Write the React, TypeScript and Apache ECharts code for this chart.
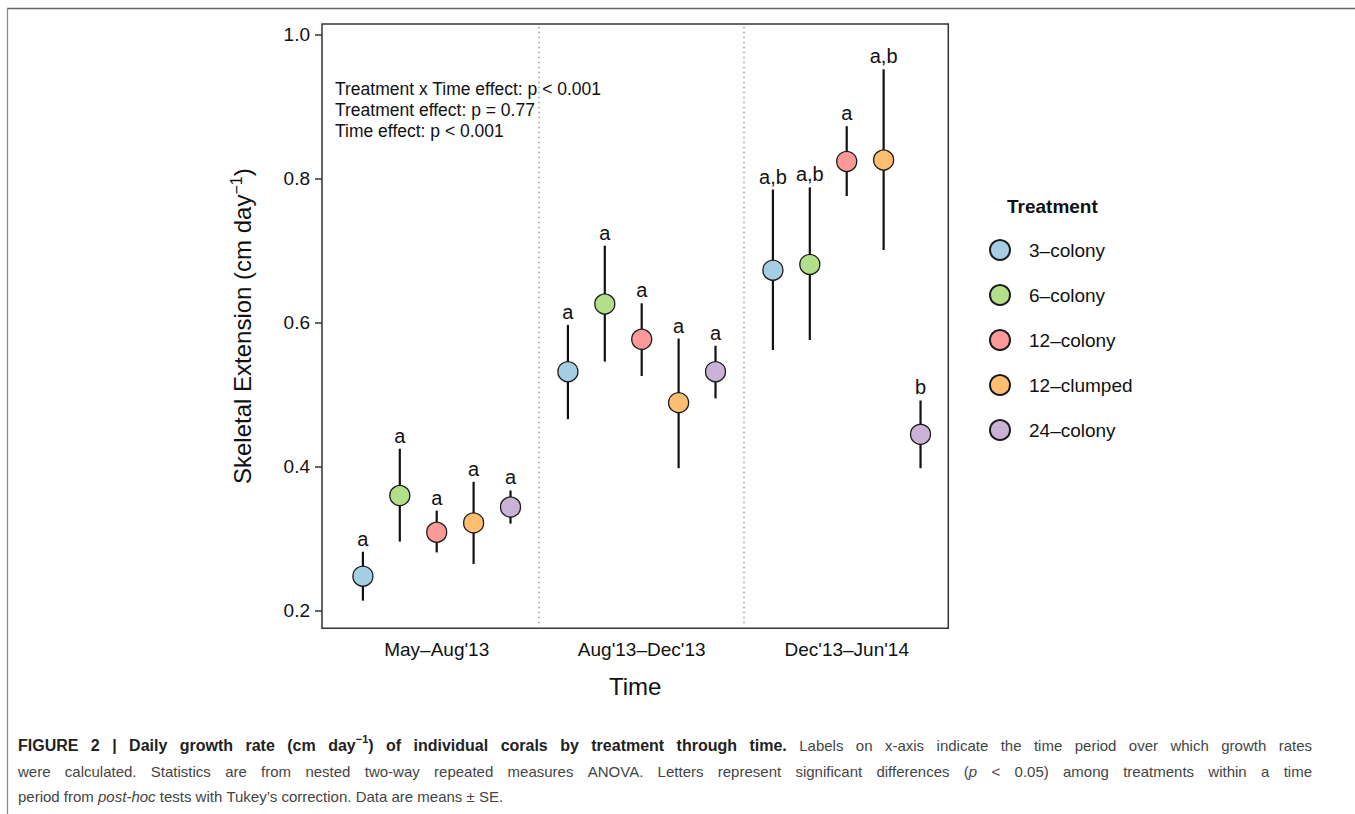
import React, { useEffect, useRef } from "react";
import * as echarts from "echarts";

// ---- data ----
const periods = ["May–Aug'13", "Aug'13–Dec'13", "Dec'13–Jun'14"];
const treatments = ["3–colony", "6–colony", "12–colony", "12–clumped", "24–colony"];
const treatmentColors = ["#A6CEE3", "#B2DF8A", "#FB9A99", "#FDBF6F", "#CAB2D6"];
// rows: treatment, columns: period
const meanValues = [
  [0.248, 0.532, 0.673],
  [0.36, 0.626, 0.681],
  [0.309, 0.577, 0.824],
  [0.322, 0.489, 0.826],
  [0.344, 0.532, 0.445],
];
const lowerValues = [
  [0.214, 0.466, 0.562],
  [0.296, 0.546, 0.576],
  [0.281, 0.526, 0.776],
  [0.265, 0.398, 0.701],
  [0.321, 0.495, 0.398],
];
const upperValues = [
  [0.282, 0.597, 0.785],
  [0.425, 0.707, 0.788],
  [0.339, 0.627, 0.873],
  [0.379, 0.578, 0.952],
  [0.367, 0.568, 0.492],
];
const letters = [
  ["a", "a", "a,b"],
  ["a", "a", "a,b"],
  ["a", "a", "a"],
  ["a", "a", "a,b"],
  ["a", "a", "b"],
];
const yTicks = [0.2, 0.4, 0.6, 0.8, 1.0];
const separators = [1.5, 2.5];
const statsLines = [
  "Treatment x Time effect: p < 0.001",
  "Treatment effect: p = 0.77",
  "Time effect: p < 0.001",
];
// caption: [style, text] segments per line (b = bold, bs = bold superscript, r = regular, i = italic)
const captionLines: [string, string][][] = [
  [
    ["b", "FIGURE 2 | Daily growth rate (cm day"],
    ["bs", "−1"],
    ["b", ") of individual corals by treatment through time."],
    ["r", " Labels on x-axis indicate the time period over which growth rates"],
  ],
  [
    ["r", "were calculated. Statistics are from nested two-way repeated measures ANOVA. Letters represent significant differences ("],
    ["i", "p"],
    ["r", " < 0.05) among treatments within a time"],
  ],
  [
    ["r", "period from "],
    ["i", "post-hoc"],
    ["r", " tests with Tukey’s correction. Data are means ± SE."],
  ],
];

const FONT = "'Liberation Sans', Arial, Helvetica, sans-serif";
const dodgeWidth = 0.9;
const dodge = (j: number) => (j - (treatments.length - 1) / 2) * (dodgeWidth / treatments.length);

const captionFonts: Record<string, string> = {
  b: `bold 16px ${FONT}`,
  bs: `bold 11px ${FONT}`,
  r: `15px ${FONT}`,
  i: `italic 15px ${FONT}`,
};

function buildCaption(left: number, right: number) {
  const ctx = document.createElement("canvas").getContext("2d") as CanvasRenderingContext2D;
  const measure = (text: string, font: string) => {
    ctx.font = font;
    return ctx.measureText(text).width;
  };
  const W = right - left;
  const rich: any = {
    b: { font: captionFonts.b, fill: "#222", lineHeight: 25.5 },
    bs: { font: captionFonts.bs, fill: "#222", lineHeight: 12, verticalAlign: "top" },
    r: { font: captionFonts.r, fill: "#444", lineHeight: 25.5 },
    i: { font: captionFonts.i, fill: "#444", lineHeight: 25.5 },
  };
  const lines = captionLines.map((segs, li) => {
    const words: [string, string][][] = [];
    let cur: [string, string][] = [];
    segs.forEach(([s, t]) => {
      const parts = t.split(" ");
      parts.forEach((p, k) => {
        if (k > 0 && cur.length) {
          words.push(cur);
          cur = [];
        }
        if (p) cur.push([s, p]);
      });
    });
    if (cur.length) words.push(cur);
    const widths = words.map((w) => w.reduce((a, [s, t]) => a + measure(t, captionFonts[s]), 0));
    const total = widths.reduce((a, b) => a + b, 0);
    const isLast = li === captionLines.length - 1;
    const gap = isLast ? measure(" ", captionFonts.r) : (W - total) / (words.length - 1);
    rich["g" + li] = { font: captionFonts.r, width: gap, lineHeight: 25.5 };
    return words.map((w) => w.map(([s, t]) => `{${s}|${t}}`).join("")).join(`{g${li}| }`);
  });
  return { text: lines.join("\n"), rich };
}

export default function App() {
  const ref = useRef<HTMLDivElement>(null);

  useEffect(() => {
    if (!ref.current) return;
    const chart = echarts.init(ref.current, null, { renderer: "svg" });

    const errData: any[] = [];
    treatments.forEach((_, j) => {
      periods.forEach((__, i) => {
        errData.push([i + 1 + dodge(j), lowerValues[j][i], upperValues[j][i], j, i]);
      });
    });

    const scatterSeries = treatments.map((name, j) => ({
      name,
      type: "scatter",
      z: 4,
      symbol: "circle",
      symbolSize: 20,
      itemStyle: { color: treatmentColors[j], borderColor: "#1a1a1a", borderWidth: 1.3, opacity: 1 },
      data: periods.map((_, i) => [i + 1 + dodge(j), meanValues[j][i]]),
      ...(j === 0
        ? {
            markLine: {
              silent: true,
              symbol: ["none", "none"],
              label: { show: false },
              lineStyle: { type: [1.5, 3.5], color: "#9a9a9a", width: 1.5 },
              data: separators.map((v) => ({ xAxis: v })),
            },
          }
        : {}),
    }));

    const caption = buildCaption(18, 1312);

    const option: any = {
      animation: false,
      backgroundColor: "#ffffff",
      textStyle: { fontFamily: FONT },
      grid: {
        left: 322,
        top: 24,
        width: 626.3,
        height: 604.3,
        show: true,
        borderColor: "#333333",
        borderWidth: 1.5,
        backgroundColor: "transparent",
      },
      xAxis: {
        type: "value",
        min: 0.4405,
        max: 3.4955,
        axisLine: { show: false },
        axisTick: { show: false },
        splitLine: { show: false },
        axisLabel: {
          customValues: [1, 2, 3],
          formatter: (v: number) => periods[Math.round(v) - 1] ?? "",
          fontSize: 19,
          color: "#111",
          fontFamily: FONT,
          margin: 12,
        },
        name: "Time",
        nameLocation: "middle",
        nameGap: 46,
        nameTextStyle: { fontSize: 24, color: "#111", fontFamily: FONT },
      },
      yAxis: {
        type: "value",
        min: 0.1756,
        max: 1.0149,
        axisLine: { show: false },
        splitLine: { show: false },
        axisTick: {
          show: true,
          customValues: yTicks,
          length: 7,
          lineStyle: { color: "#333", width: 1.5 },
        },
        axisLabel: {
          customValues: yTicks,
          formatter: (v: number) => v.toFixed(1),
          fontSize: 19,
          color: "#111",
          fontFamily: FONT,
          margin: 12,
        },
        name: "{m|Skeletal Extension (cm day}{s|−1}{m|)}",
        nameLocation: "middle",
        nameGap: 66,
        nameTextStyle: {
          color: "#111",
          fontFamily: FONT,
          rich: {
            m: { fontSize: 24, lineHeight: 28, color: "#111", fontFamily: FONT },
            s: { fontSize: 16, lineHeight: 14, verticalAlign: "top", color: "#111", fontFamily: FONT },
          },
        },
      },
      legend: {
        data: treatments,
        orient: "vertical",
        left: 989,
        top: 239,
        padding: 0,
        itemWidth: 20,
        itemHeight: 20,
        itemGap: 23,
        icon: "circle",
        textStyle: { fontSize: 19, color: "#111", fontFamily: FONT, padding: [0, 0, 0, 14] },
      },
      graphic: [
        {
          type: "text",
          left: 335,
          top: 78,
          style: {
            text: statsLines.join("\n"),
            font: `17.5px ${FONT}`,
            lineHeight: 21,
            fill: "#111",
          },
        },
        {
          type: "text",
          left: 1007,
          top: 197,
          style: { text: "Treatment", font: `bold 19px ${FONT}`, fill: "#111" },
        },
        {
          type: "line",
          shape: { x1: 7, y1: 8.5, x2: 1355, y2: 8.5 },
          style: { stroke: "#666", lineWidth: 1.5 },
        },
        {
          type: "line",
          shape: { x1: 7.5, y1: 8, x2: 7.5, y2: 814 },
          style: { stroke: "#888", lineWidth: 1.2 },
        },
        {
          type: "text",
          left: 18,
          top: 733,
          style: { text: caption.text, rich: caption.rich },
        },
      ],
      series: [
        {
          name: "SE",
          type: "custom",
          z: 2,
          silent: true,
          data: errData,
          encode: { x: 0, y: [1, 2] },
          renderItem: (params: any, api: any) => {
            const x = api.value(0);
            const lo = api.value(1);
            const hi = api.value(2);
            const j = api.value(3);
            const i = api.value(4);
            const p1 = api.coord([x, lo]);
            const p2 = api.coord([x, hi]);
            return {
              type: "group",
              children: [
                {
                  type: "line",
                  shape: { x1: p1[0], y1: p1[1], x2: p2[0], y2: p2[1] },
                  style: { stroke: "#111", lineWidth: 2.2 },
                },
                {
                  type: "text",
                  x: p2[0],
                  y: p2[1] - 3,
                  style: {
                    text: letters[j][i],
                    align: "center",
                    verticalAlign: "bottom",
                    font: `20px ${FONT}`,
                    fill: "#111",
                  },
                },
              ],
            };
          },
        },
        ...scatterSeries,
      ],
    };

    chart.setOption(option);
    return () => chart.dispose();
  }, []);

  return (
    <div
      ref={ref}
      style={{ position: "fixed", left: 0, top: 0, width: 1355, height: 814, background: "#fff" }}
    />
  );
}
